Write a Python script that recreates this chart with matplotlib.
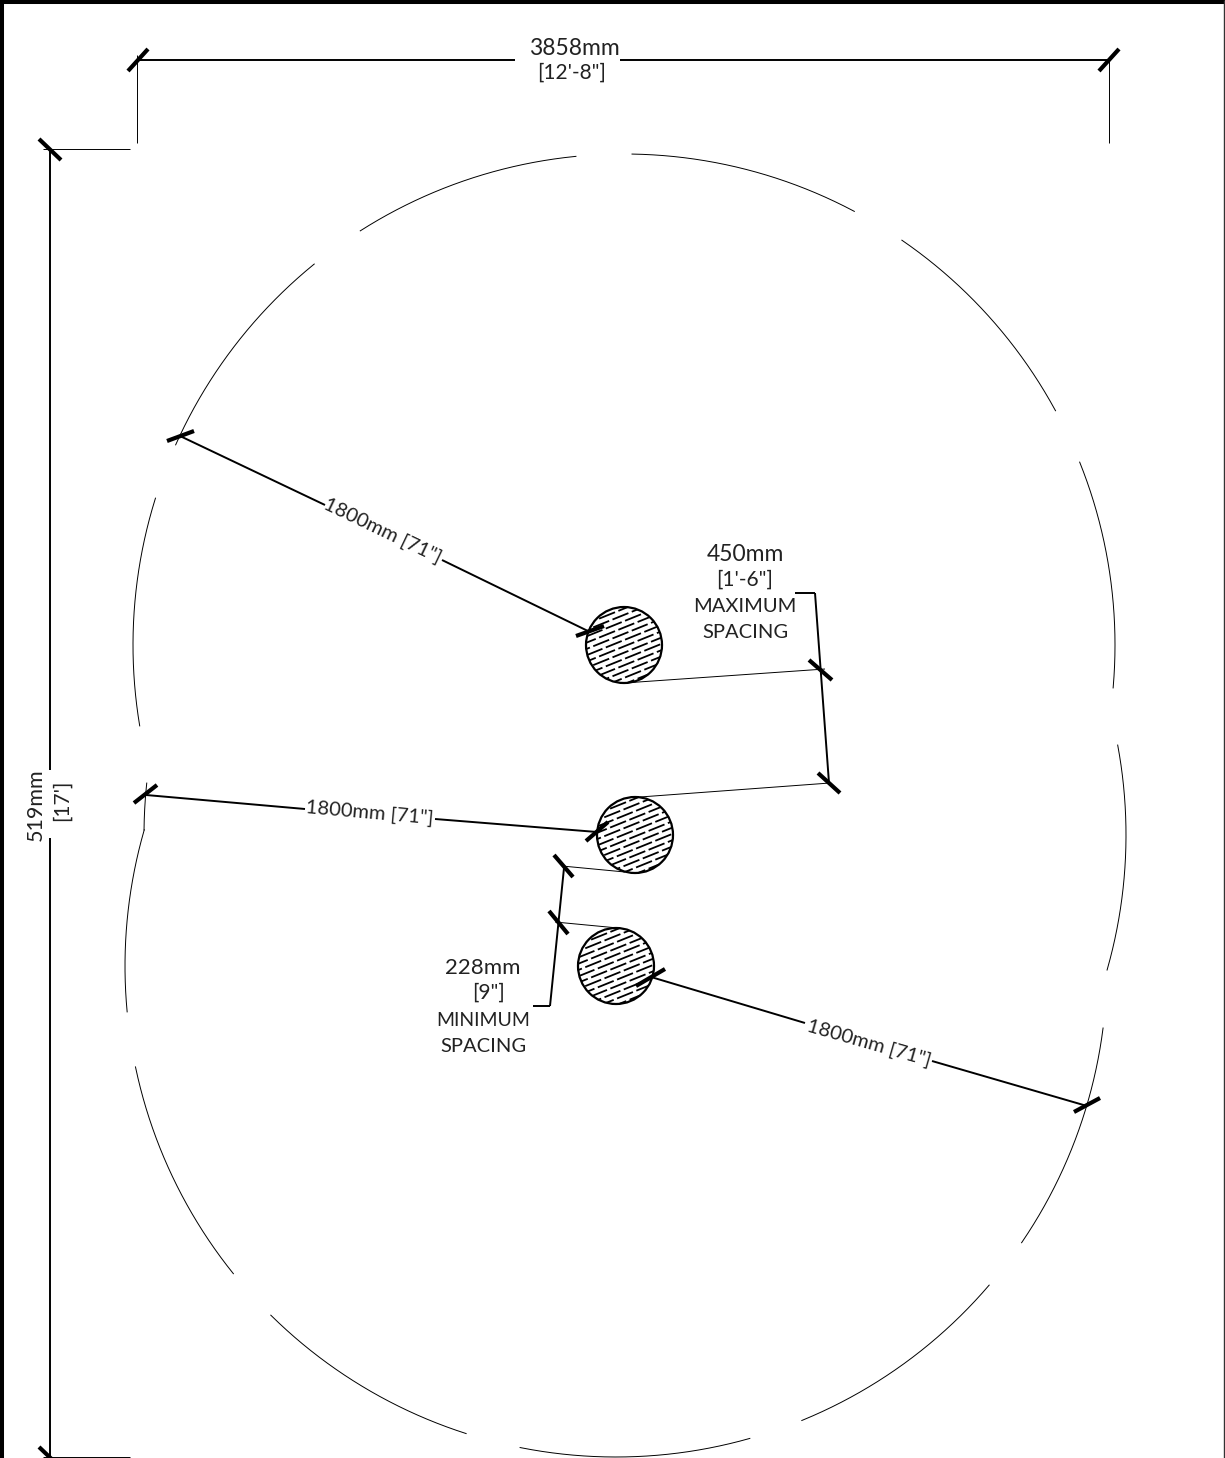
"""Tree spacing plan: three trunks, their 1800 mm clearance circles and dimensions."""

import matplotlib

matplotlib.use("Agg")
import matplotlib.pyplot as plt
import numpy as np
from matplotlib.patches import Circle

WIDTH, HEIGHT = 1225, 1458
FONT = "Lato"

# trunks, as (x, y) in drawing pixels
TRUNKS = [(624, 645), (635, 835), (616, 966)]
TRUNK_RADIUS = 38
CLEARANCE_RADIUS = 491

# visible pieces of each clearance circle: trunk index, start point, end point
ARCS = [
    (0, (632, 155), (854, 212)),
    (0, (902, 240), (1055, 411)),
    (0, (1080, 462), (1114, 688)),
    (0, (361, 232), (576, 157)),
    (0, (176, 445), (315, 265)),
    (0, (139, 726), (155, 498)),
    (1, (1118, 745), (1107, 970)),
    (1, (145, 830), (146, 783)),
    (2, (126, 1012), (145, 830)),
    (2, (233, 1274), (135, 1067)),
    (2, (466, 1434), (270, 1316)),
    (2, (750, 1439), (520, 1448)),
    (2, (989, 1285), (802, 1421)),
    (2, (1103, 1028), (1022, 1243)),
]

# dimension lines (heavier)
DIM_LINES = [
    ((137, 60), (515, 60)),
    ((620, 60), (1109, 60)),
    ((50, 149), (50, 770)),
    ((50, 838), (50, 1458)),
    ((180, 436), (325, 505)),
    ((442, 560), (590, 632)),
    ((146, 795), (305, 809)),
    ((435, 819), (597, 832)),
    ((651, 977), (805, 1023)),
    ((932, 1061), (1087, 1106)),
    ((795, 593), (815, 593)),
    ((815, 593), (829, 783)),
    ((533, 1006), (550, 1006)),
    ((550, 1006), (564, 868)),
]

# extension lines (thin)
EXT_LINES = [
    ((137, 55), (137, 143)),
    ((1109, 60), (1109, 143)),
    ((43, 149), (130, 149)),
    ((43, 1457), (130, 1457)),
    ((624, 683), (825, 669)),
    ((640, 797), (830, 783)),
    ((562, 866), (625, 872)),
    ((555, 922), (618, 928)),
]

# tick slashes
TICKS = [
    ((128, 71), (148, 49)),
    ((1099, 71), (1119, 49)),
    ((39, 139), (61, 160)),
    ((39, 1447), (61, 1468)),
    ((167, 441), (194, 431)),
    ((576, 636), (604, 626)),
    ((134, 803), (157, 785)),
    ((586, 841), (608, 822)),
    ((636, 986), (665, 969)),
    ((1074, 1112), (1100, 1098)),
    ((809, 660), (832, 680)),
    ((818, 773), (840, 793)),
    ((554, 855), (573, 877)),
    ((549, 911), (568, 934)),
]

# text, x, y, rotation, font size
LABELS = [
    ("3858mm", 574, 48, 0, 16.5),
    ("[12'-8\"]", 572, 73, 0, 15),
    ("519mm", 36, 805, 90, 15.5),
    ("[17']", 62, 800, 90, 15),
    ("1800mm [71\"]", 383, 531, -25.5, 14.5),
    ("1800mm [71\"]", 370, 813, -5, 14.5),
    ("1800mm [71\"]", 869, 1043, -16, 14.5),
    ("450mm", 745, 554, 0, 16.5),
    ("[1'-6\"]", 745, 580, 0, 15),
    ("MAXIMUM", 745, 606, 0, 14.5),
    ("SPACING", 745, 632, 0, 14.5),
    ("228mm", 483, 968, 0, 16),
    ("[9\"]", 488, 993, 0, 15),
    ("MINIMUM", 483, 1021, 0, 14),
    ("SPACING", 483, 1047, 0, 14.5),
]


def draw_segments(ax, segments, lw, color="black"):
    for (x0, y0), (x1, y1) in segments:
        ax.plot([x0, x1], [y0, y1], color=color, lw=lw, solid_capstyle="butt")


def draw_arc(ax, center, start, end):
    a0 = np.arctan2(start[1] - center[1], start[0] - center[0])
    a1 = np.arctan2(end[1] - center[1], end[0] - center[0])
    if a1 < a0:
        a1 += 2 * np.pi
    angles = np.linspace(a0, a1, 200)
    ax.plot(
        center[0] + CLEARANCE_RADIUS * np.cos(angles),
        center[1] + CLEARANCE_RADIUS * np.sin(angles),
        color="black",
        lw=0.7,
    )


def draw_trunk(ax, center):
    """Outline plus broken diagonal hatching clipped to the circle."""
    x, y = center
    disc = Circle(center, TRUNK_RADIUS, fc="white", ec="black", lw=1.6, zorder=3)
    ax.add_patch(disc)
    clip = Circle(center, TRUNK_RADIUS, transform=ax.transData)
    slope = np.tan(np.radians(-22))
    offsets = np.arange(-49, 50, 6.3)
    for row, offset in enumerate(offsets):
        xs = np.array([x - 50, x + 50])
        ys = y + offset + slope * (xs - x)
        line = ax.plot(
            xs,
            ys,
            color="black",
            lw=1.3,
            linestyle=((row * 4) % 12, (9.5, 2.0)),
            zorder=4,
        )[0]
        line.set_clip_path(clip)


def main():
    fig = plt.figure(figsize=(WIDTH / 100, HEIGHT / 100), dpi=100)
    ax = fig.add_axes([0, 0, 1, 1])
    ax.set_xlim(0, WIDTH)
    ax.set_ylim(HEIGHT, 0)
    ax.axis("off")

    # drawing frame: heavy top and left, hairline right, open at the bottom
    ax.plot([2, 2], [0, HEIGHT], color="black", lw=2.9, solid_capstyle="butt")
    ax.plot([0, WIDTH], [2, 2], color="black", lw=2.9, solid_capstyle="butt")
    ax.plot([WIDTH - 1, WIDTH - 1], [0, HEIGHT], color="#333333", lw=1.0, solid_capstyle="butt")

    for index, start, end in ARCS:
        draw_arc(ax, TRUNKS[index], start, end)

    draw_segments(ax, EXT_LINES, 0.7)
    for trunk in TRUNKS:
        draw_trunk(ax, trunk)
    draw_segments(ax, DIM_LINES, 1.4)
    for (x0, y0), (x1, y1) in TICKS:
        ax.plot([x0, x1], [y0, y1], color="black", lw=3.0, solid_capstyle="butt", zorder=5)

    for text, x, y, rotation, size in LABELS:
        ax.text(
            x, y, text, family=FONT, fontsize=size, fontweight="normal", color="#222222",
            ha="center", va="center", rotation=rotation, rotation_mode="anchor",
        )

    fig.savefig("out.png", dpi=100)


if __name__ == "__main__":
    main()
